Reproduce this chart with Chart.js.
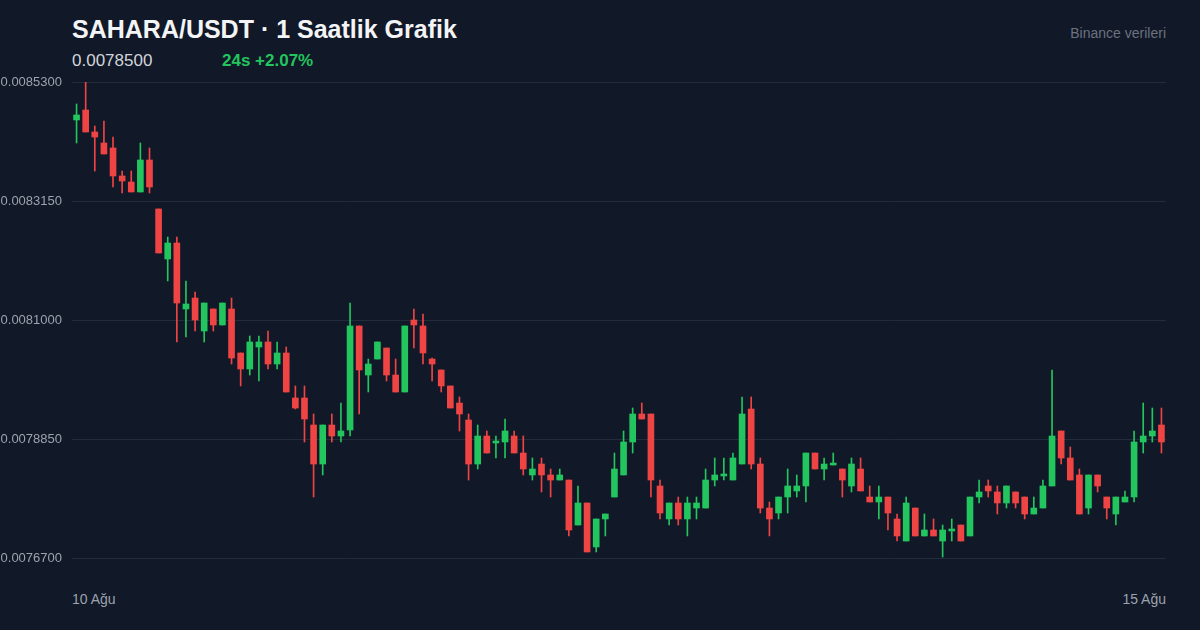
<!DOCTYPE html>
<html>
<head>
<meta charset="utf-8">
<script src="https://cdn.jsdelivr.net/npm/chart.js@4.4.1/dist/chart.umd.min.js"></script>
<style>
  body { margin: 0; background: #111827; font-family: "Liberation Sans", Arial, sans-serif; }
  #wrap { position: relative; width: 1200px; height: 630px; overflow: hidden; }
  .title { position: absolute; left: 72px; top: 15px; font-size: 25px; font-weight: bold; color: #f3f4f6; }
  .price { position: absolute; left: 72px; top: 51px; font-size: 17px; color: #d1d5db; }
  .change { position: absolute; left: 222px; top: 51px; font-size: 17px; font-weight: bold; color: #22c55e; }
  .source { position: absolute; right: 34px; top: 25px; font-size: 14px; color: #6b7280; }
  .date { position: absolute; top: 591px; font-size: 14px; color: #9ca3af; }
  #box { position: absolute; left: 0; top: 62px; width: 1166px; height: 516px; }
</style>
</head>
<body>
<div id="wrap">
  <div class="title">SAHARA/USDT · 1 Saatlik Grafik</div>
  <div class="price">0.0078500</div>
  <div class="change">24s +2.07%</div>
  <div class="source">Binance verileri</div>
  <div class="date" id="d0" style="left:72px"></div>
  <div class="date" id="d1" style="right:34px"></div>
  <div id="box"><canvas id="chart"></canvas></div>
</div>
<script>
// hourly candles, 10 Ağu -> 15 Ağu
let opens = [
  0.0084614, 0.0084794, 0.0084397, 0.0084198, 0.0084108, 0.0083602, 0.0083493, 0.0083313, 0.0083891, 0.0083006,
  0.0082102, 0.0082391, 0.0081199, 0.0081397, 0.0080801, 0.0081199, 0.0080910, 0.0081199, 0.0080404, 0.0080115,
  0.0080512, 0.0080603, 0.0080205, 0.0080404, 0.0079591, 0.0079591, 0.0079103, 0.0078398, 0.0079103, 0.0078904,
  0.0079013, 0.0080892, 0.0080006, 0.0080295, 0.0080494, 0.0080006, 0.0079699, 0.0081000, 0.0080892, 0.0080295,
  0.0080097, 0.0079808, 0.0079500, 0.0079193, 0.0078398, 0.0078904, 0.0078778, 0.0078796, 0.0078904, 0.0078597,
  0.0078200, 0.0078398, 0.0078200, 0.0078109, 0.0078109, 0.0077296, 0.0077694, 0.0076899, 0.0077405, 0.0077802,
  0.0078200, 0.0078796, 0.0079302, 0.0079302, 0.0078001, 0.0077405, 0.0077694, 0.0077405, 0.0077603, 0.0077603,
  0.0078109, 0.0078182, 0.0078109, 0.0078398, 0.0079392, 0.0078398, 0.0077603, 0.0077513, 0.0077802, 0.0077911,
  0.0078001, 0.0078597, 0.0078308, 0.0078380, 0.0078308, 0.0078001, 0.0078308, 0.0077802, 0.0077712, 0.0077802,
  0.0077405, 0.0077007, 0.0077603, 0.0077098, 0.0077206, 0.0077007, 0.0077188, 0.0077296, 0.0077098, 0.0077802,
  0.0078001, 0.0077893, 0.0077694, 0.0077893, 0.0077802, 0.0077495, 0.0077603, 0.0078001, 0.0078995, 0.0078507,
  0.0078200, 0.0077603, 0.0078200, 0.0077802, 0.0077495, 0.0077712, 0.0077802, 0.0078796, 0.0078904, 0.0079103
];
let closes = [
  0.0084704, 0.0084397, 0.0084306, 0.0083999, 0.0083602, 0.0083511, 0.0083313, 0.0083891, 0.0083403, 0.0082211,
  0.0082391, 0.0081307, 0.0081289, 0.0081000, 0.0081307, 0.0080910, 0.0081307, 0.0080313, 0.0080115, 0.0080603,
  0.0080603, 0.0080205, 0.0080404, 0.0079699, 0.0079410, 0.0079211, 0.0078398, 0.0079103, 0.0078904, 0.0078995,
  0.0080892, 0.0080097, 0.0080205, 0.0080603, 0.0080006, 0.0079699, 0.0080892, 0.0080910, 0.0080404, 0.0080205,
  0.0079808, 0.0079410, 0.0079302, 0.0078398, 0.0078904, 0.0078597, 0.0078796, 0.0078995, 0.0078597, 0.0078308,
  0.0078308, 0.0078200, 0.0078109, 0.0078200, 0.0077206, 0.0077694, 0.0076809, 0.0077405, 0.0077495, 0.0078308,
  0.0078796, 0.0079302, 0.0079211, 0.0078109, 0.0077513, 0.0077694, 0.0077405, 0.0077694, 0.0077694, 0.0078109,
  0.0078200, 0.0078200, 0.0078507, 0.0079302, 0.0078398, 0.0077603, 0.0077405, 0.0077802, 0.0078001, 0.0078001,
  0.0078597, 0.0078308, 0.0078398, 0.0078398, 0.0078109, 0.0078398, 0.0077911, 0.0077712, 0.0077802, 0.0077513,
  0.0077098, 0.0077694, 0.0077098, 0.0077206, 0.0077098, 0.0077206, 0.0077206, 0.0077007, 0.0077802, 0.0077893,
  0.0077911, 0.0077694, 0.0078001, 0.0077694, 0.0077495, 0.0077603, 0.0078001, 0.0078904, 0.0078507, 0.0078109,
  0.0077495, 0.0078200, 0.0078001, 0.0077603, 0.0077802, 0.0077802, 0.0078796, 0.0078904, 0.0078995, 0.0078796
];
let highs = [
  0.0084903, 0.0085300, 0.0084505, 0.0084595, 0.0084306, 0.0083692, 0.0083692, 0.0084198, 0.0084108, 0.0083006,
  0.0082500, 0.0082500, 0.0081705, 0.0081506, 0.0081307, 0.0081199, 0.0081307, 0.0081397, 0.0080404, 0.0080711,
  0.0080711, 0.0080801, 0.0080603, 0.0080512, 0.0079808, 0.0079808, 0.0079302, 0.0079103, 0.0079302, 0.0079500,
  0.0081307, 0.0080892, 0.0080295, 0.0080603, 0.0080494, 0.0080295, 0.0080892, 0.0081199, 0.0081109, 0.0080313,
  0.0080097, 0.0079808, 0.0079609, 0.0079302, 0.0079103, 0.0078995, 0.0078904, 0.0079211, 0.0078995, 0.0078904,
  0.0078507, 0.0078507, 0.0078308, 0.0078308, 0.0078109, 0.0078001, 0.0077694, 0.0077405, 0.0077495, 0.0078597,
  0.0078995, 0.0079410, 0.0079500, 0.0079302, 0.0078109, 0.0077694, 0.0077802, 0.0077802, 0.0077802, 0.0078308,
  0.0078507, 0.0078507, 0.0078597, 0.0079609, 0.0079609, 0.0078507, 0.0077712, 0.0077802, 0.0078308, 0.0078200,
  0.0078597, 0.0078597, 0.0078507, 0.0078597, 0.0078308, 0.0078507, 0.0078507, 0.0078001, 0.0078001, 0.0077802,
  0.0077495, 0.0077802, 0.0077603, 0.0077495, 0.0077405, 0.0077296, 0.0077405, 0.0077296, 0.0077802, 0.0078109,
  0.0078109, 0.0078001, 0.0078001, 0.0077893, 0.0077802, 0.0077802, 0.0078109, 0.0080097, 0.0078995, 0.0078706,
  0.0078308, 0.0078200, 0.0078200, 0.0077802, 0.0077802, 0.0077911, 0.0078995, 0.0079500, 0.0079410, 0.0079410
];
let lows = [
  0.0084198, 0.0084397, 0.0083692, 0.0083999, 0.0083403, 0.0083295, 0.0083313, 0.0083313, 0.0083295, 0.0082211,
  0.0081705, 0.0080603, 0.0080693, 0.0080801, 0.0080603, 0.0080801, 0.0080910, 0.0080205, 0.0079808, 0.0080006,
  0.0079898, 0.0080115, 0.0080115, 0.0079699, 0.0079392, 0.0078796, 0.0077802, 0.0078200, 0.0078796, 0.0078796,
  0.0078904, 0.0079302, 0.0079699, 0.0080295, 0.0079898, 0.0079699, 0.0079699, 0.0080494, 0.0080205, 0.0079898,
  0.0079699, 0.0079410, 0.0078995, 0.0078109, 0.0078308, 0.0078597, 0.0078507, 0.0078507, 0.0078597, 0.0078200,
  0.0078109, 0.0077893, 0.0077802, 0.0078109, 0.0077098, 0.0077296, 0.0076809, 0.0076809, 0.0077098, 0.0077802,
  0.0078200, 0.0078597, 0.0079211, 0.0077802, 0.0077405, 0.0077296, 0.0077296, 0.0077098, 0.0077405, 0.0077603,
  0.0078001, 0.0078109, 0.0078109, 0.0078398, 0.0078308, 0.0077513, 0.0077098, 0.0077405, 0.0077513, 0.0077802,
  0.0077712, 0.0078308, 0.0078109, 0.0078380, 0.0077802, 0.0077893, 0.0077911, 0.0077712, 0.0077405, 0.0077206,
  0.0077007, 0.0077007, 0.0077098, 0.0077098, 0.0077098, 0.0076718, 0.0077007, 0.0077007, 0.0077098, 0.0077694,
  0.0077802, 0.0077495, 0.0077603, 0.0077603, 0.0077405, 0.0077495, 0.0077603, 0.0078001, 0.0078398, 0.0078109,
  0.0077495, 0.0077495, 0.0077893, 0.0077405, 0.0077296, 0.0077712, 0.0077712, 0.0078597, 0.0078796, 0.0078597
];
let yTicks = [0.00767, 0.007885, 0.0081, 0.008315, 0.00853];
let dateLabels = ['10 Ağu', '15 Ağu'];

let up = '#22c55e', down = '#ef4444';

// one category per hour
let labels = [];
for (let i = 0; i < opens.length; i++) {
  let h = i + 1;
  labels.push((10 + Math.floor(h / 24)) + ' Ağu ' + String(h % 24).padStart(2, '0') + ':00');
}
let colors = opens.map((o, i) => closes[i] >= o ? up : down);

document.getElementById('d0').textContent = dateLabels[0];
document.getElementById('d1').textContent = dateLabels[1];

new Chart(document.getElementById('chart'), {
  type: 'bar',
  data: {
    labels: labels,
    datasets: [{
      data: opens.map((o, i) => [o, closes[i]]),
      backgroundColor: colors,
      barThickness: 6,
      minBarLength: 2,
      grouped: false
    }, {
      data: lows.map((l, i) => [l, highs[i]]),
      backgroundColor: colors,
      barThickness: 1,
      grouped: false
    }]
  },
  options: {
    responsive: true,
    maintainAspectRatio: false,
    animation: false,
    layout: { padding: { top: 20, bottom: 20, left: 0, right: 0 } },
    plugins: { legend: { display: false }, tooltip: { enabled: false } },
    scales: {
      x: { display: false },
      y: {
        min: 0.00767,
        max: 0.00853,
        border: { display: false },
        grid: { color: '#222c3b', drawTicks: false, lineWidth: 1 },
        afterBuildTicks: function(scale) { scale.ticks = yTicks.map(v => ({ value: v })); },
        afterFit: function(scale) { scale.width = 72; },
        ticks: {
          padding: 10,
          color: '#9ca3af',
          font: { family: '"Liberation Sans", Arial, sans-serif', size: 13 },
          callback: v => v.toFixed(7)
        }
      }
    }
  }
});
</script>
</body>
</html>
